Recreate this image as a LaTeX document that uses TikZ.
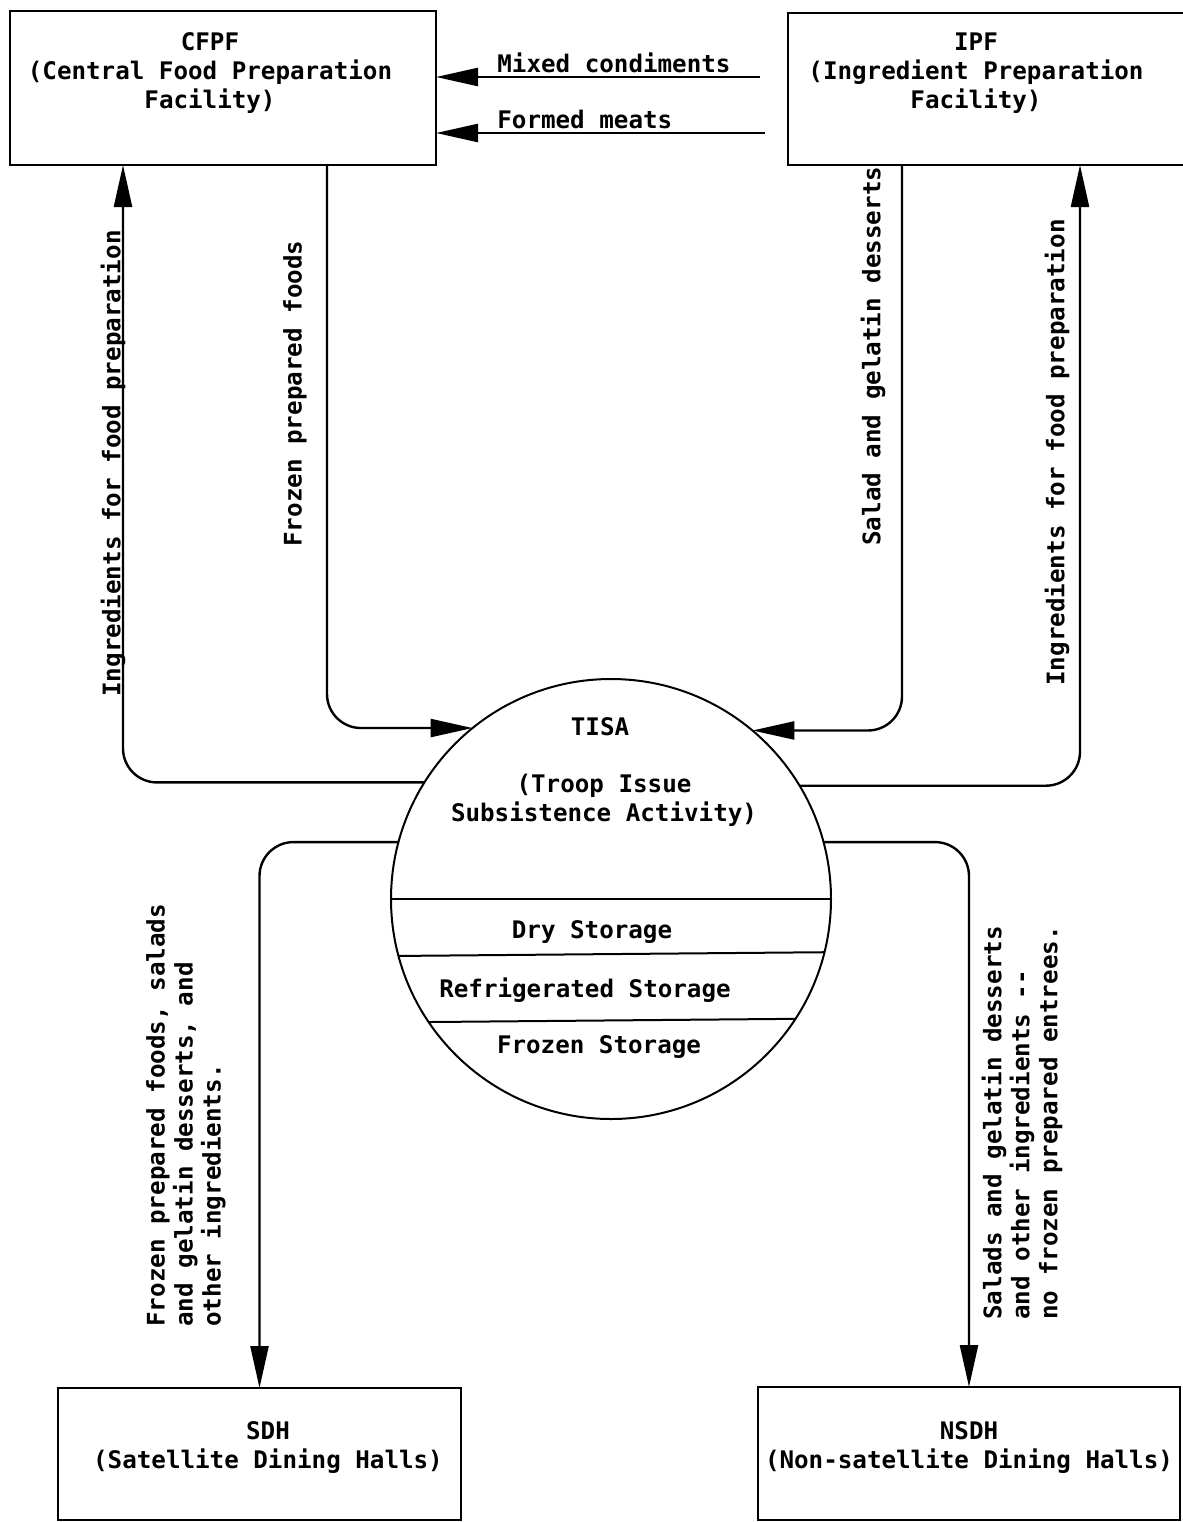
\documentclass[tikz,border=0pt]{standalone}
\usepackage{fontspec}
\setmainfont{DejaVu Sans Mono}
\usetikzlibrary{arrows.meta}

\begin{document}
\begin{tikzpicture}[x=0.5pt,y=-0.5pt,
		box/.style={draw,line width=1pt,inner sep=0pt,outer sep=0pt},
		txt/.style={align=center,inner sep=0pt,font=\fontsize{12.1}{14.5}\selectfont\bfseries},
		lbl/.style={rotate=90,anchor=west,align=left,inner sep=0pt,font=\fontsize{12.1}{14}\selectfont\bfseries},
		flow/.style={line width=1.2pt,rounded corners=17pt,-{Triangle[length=21pt,width=9pt]}}]
				\useasboundingbox (0,0) rectangle (1183,1522);
				\clip (0,0) rectangle (1183,1522);
				\node[box,minimum width=213pt,minimum height=77pt] (cfpf) at (223,88) {};
				\node[box,minimum width=201pt,minimum height=76pt] (ipf) at (989,89) {};
				\node[box,minimum width=201.5pt,minimum height=66pt] (sdh) at (259.5,1454) {};
				\node[box,minimum width=211pt,minimum height=66.5pt] (nsdh) at (969,1453.5) {};
				\node[box,circle,minimum size=220pt] (tisa) at (611,899) {};
				\node[txt] (cfpft) at (210,73) {CFPF\\(Central Food Preparation\\Facility)};
				\node[txt] (ipft) at (976,73) {IPF\\(Ingredient Preparation\\Facility)};
				\node[txt] (sdht) at (268,1448) {SDH\\(Satellite Dining Halls)};
				\node[txt] (nsdht) at (969,1448) {NSDH\\(Non-satellite Dining Halls)};
				\node[txt] (tisat) at (600,727) {TISA};
				\node[txt] (tisafull) at (604,800) {(Troop Issue\\Subsistence Activity)};
				\node[txt] (dry) at (592,932) {Dry Storage};
				\node[txt] (refr) at (585,990) {Refrigerated Storage};
				\node[txt] (froz) at (599,1047) {Frozen Storage};
				\draw[line width=1pt] (tisa.west) -- (tisa.east);
				\draw[line width=1pt] (tisa.-165.25) -- (tisa.-14.75);
				\draw[line width=1pt] (tisa.-146.6) -- (tisa.-33.4);
				\coordinate (mixed) at (760,77);
				\coordinate (meats) at (765,133);
				\draw[flow] (mixed) -- (mixed -| cfpf.east);
				\draw[flow] (meats) -- (meats -| cfpf.east);
				\node[txt,anchor=base west] (mixedl) at (497,72) {Mixed condiments};
				\node[txt,anchor=base west] (meatsl) at (497,128) {Formed meats};
				\draw[flow] (tisa.148.8) -| ([xshift=56.5pt]cfpf.south west);
				\draw[flow] ([xshift=158.5pt]cfpf.south west) |- (tisa.129.8);
				\draw[flow] ([xshift=57pt]ipf.south west) |- (tisa.50.2);
				\draw[flow] (tisa.31.2) -| ([xshift=146pt]ipf.south west);
				\draw[flow] (tisa.165) -| (sdh.north);
				\draw[flow] (tisa.15) -| (nsdh.north);
				\node[lbl] (ingl) at (113,697) {Ingredients for food preparation};
				\node[lbl] (frzl) at (295,547) {Frozen prepared foods};
				\node[lbl] (sall) at (873,546) {Salad and gelatin desserts};
				\node[lbl] (ingr) at (1057,686) {Ingredients for food preparation};
				\node[lbl] (sdhl) at (186,1327) {Frozen prepared foods, salads\\and gelatin desserts, and\\other ingredients.};
				\node[lbl] (nsdhl) at (1022,1320) {Salads and gelatin desserts\\and other ingredients -{}-\\no frozen prepared entrees.};
			\end{tikzpicture}
\end{document}
